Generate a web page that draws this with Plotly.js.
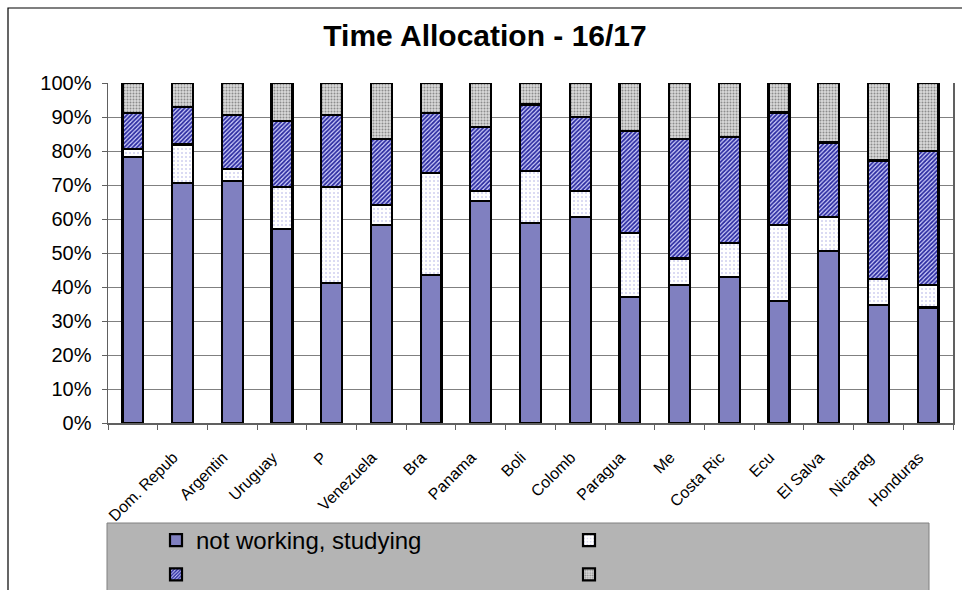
<!DOCTYPE html>
<html>
<head>
<meta charset="utf-8">
<script src="https://cdn.plot.ly/plotly-3.0.1.min.js"></script>
<style>
  html, body { margin: 0; padding: 0; background: #ffffff; }
  #chart { width: 962px; height: 590px; }
</style>
</head>
<body>
<div id="chart"></div>
<script>
// Country labels as printed under the bars (the first bar carries no label)
const countries = [" ", "Dom. Repub", "Argentin", "Uruguay", "P", "Venezuela", "Bra",
  "Panama", "Boli", "Colomb", "Paragua", "Me", "Costa Ric", "Ecu", "El Salva",
  "Nicarag", "Honduras"];

// Share of time in each activity, percent of the age group
const notWorkingStudying = [78.2, 70.6, 71.1, 57.1, 41.1, 58.3, 43.5, 65.4, 58.8, 60.6,
  37.0, 40.6, 43.0, 36.0, 50.5, 34.7, 34.0];
const secondGroup = [2.5, 11.3, 3.7, 12.4, 28.4, 5.9, 30.0, 2.9, 15.4, 7.7,
  19.0, 7.8, 9.9, 22.3, 10.2, 7.6, 6.6];
const thirdGroup = [10.5, 11.1, 15.9, 19.4, 21.2, 19.3, 17.7, 18.7, 19.5, 21.8,
  30.0, 35.1, 31.3, 33.0, 21.8, 34.9, 39.5];
const fourthGroup = [8.8, 7.0, 9.3, 11.1, 9.3, 16.5, 8.8, 13.0, 6.3, 9.9,
  14.0, 16.5, 15.8, 8.7, 17.5, 22.8, 19.9];

const yTicks = [0, 10, 20, 30, 40, 50, 60, 70, 80, 90, 100];
const yTickText = yTicks.map(v => v + "%");
// slanted labels sit a little before the tick, so pad their ends
const xTickText = countries.map(c => c + "\u00a0\u00a0\u00a0");

// Page geometry (pixels) and helpers to place paper-referenced items
const W = 962, H = 590;
const M = { l: 108, r: 9, t: 83, b: 167 };
const plotW = W - M.l - M.r, plotH = H - M.t - M.b;
const px2x = px => (px - M.l) / plotW;
const px2y = py => (H - M.b - py) / plotH;

const FONT = "Arial, 'Liberation Sans', sans-serif";
const outline = { color: "#000000", width: 2.2 };

function series(name, values, marker) {
  return {
    type: "bar",
    name: name,
    x: countries,
    y: values,
    marker: Object.assign({ line: outline }, marker),
    hoverinfo: "x+y"
  };
}

const traces = [
  series("not working, studying", notWorkingStudying, { color: "#8080c0" }),
  series(" ", secondGroup, {
    color: "#ffffff",
    pattern: { shape: ".", bgcolor: "#ffffff", fgcolor: "#d0d0f0", size: 4, solidity: 0.2 }
  }),
  series(" ", thirdGroup, {
    color: "#8080d0",
    pattern: { shape: "/", bgcolor: "#d4d4ff", fgcolor: "#2c2ca0", size: 3, solidity: 0.6 }
  }),
  series(" ", fourthGroup, {
    color: "#c0c0c0",
    pattern: { shape: ".", bgcolor: "#dadada", fgcolor: "#8c8c8c", size: 3, solidity: 0.35 }
  })
];

const layout = {
  width: W,
  height: H,
  margin: Object.assign({ autoexpand: false }, M),
  paper_bgcolor: "#ffffff",
  plot_bgcolor: "#ffffff",
  barmode: "stack",
  bargap: 0.58,
  font: { family: FONT, color: "#000000" },
  title: {
    text: "<b>Time Allocation - 16/17</b>",
    font: { family: FONT, size: 30, color: "#000000" },
    xref: "container", x: 485 / W, xanchor: "center",
    yref: "container", y: 1 - 35 / H, yanchor: "middle"
  },
  xaxis: {
    type: "category",
    tickson: "boundaries",
    tickmode: "array",
    tickvals: countries,
    ticktext: xTickText,
    ticks: "outside",
    ticklen: 5,
    tickcolor: "#606060",
    tickangle: -45,
    ticklabelstandoff: 8,
    tickfont: { family: FONT, size: 16, color: "#000000" },
    showgrid: false,
    showline: true,
    linecolor: "#606060",
    linewidth: 1.5,
    zeroline: false,
    automargin: false,
    range: [-0.5, countries.length - 0.5]
  },
  yaxis: {
    range: [0, 100],
    tickmode: "array",
    tickvals: yTicks,
    ticktext: yTickText,
    ticks: "outside",
    ticklen: 5,
    tickcolor: "#606060",
    ticklabelstandoff: 6,
    tickfont: { family: FONT, size: 20, color: "#000000" },
    showgrid: true,
    gridcolor: "#808080",
    gridwidth: 1,
    showline: true,
    mirror: true,
    linecolor: "#606060",
    linewidth: 1.5,
    zeroline: false,
    automargin: false
  },
  showlegend: true,
  legend: {
    orientation: "h",
    traceorder: "normal",
    entrywidth: 368,
    entrywidthmode: "pixels",
    xref: "container", x: 156 / W, xanchor: "left",
    yref: "container", y: 1 - 518 / H, yanchor: "top",
    bgcolor: "rgba(0,0,0,0)",
    borderwidth: 0,
    font: { family: FONT, size: 24, color: "#000000" },
    itemclick: false,
    itemdoubleclick: false
  },
  shapes: [
    // grey legend panel
    {
      type: "rect", xref: "paper", yref: "paper", layer: "above",
      x0: px2x(107), x1: px2x(929), y0: px2y(523), y1: px2y(600),
      fillcolor: "#b4b4b4", line: { color: "#808080", width: 1 }
    },
    // chart frame
    {
      type: "rect", xref: "paper", yref: "paper", layer: "above",
      x0: px2x(8), x1: px2x(975), y0: px2y(8), y1: px2y(600),
      fillcolor: "rgba(0,0,0,0)", line: { color: "#000000", width: 1.2 }
    }
  ]
};

Plotly.newPlot("chart", traces, layout, { displayModeBar: false, staticPlot: true });
</script>
</body>
</html>
